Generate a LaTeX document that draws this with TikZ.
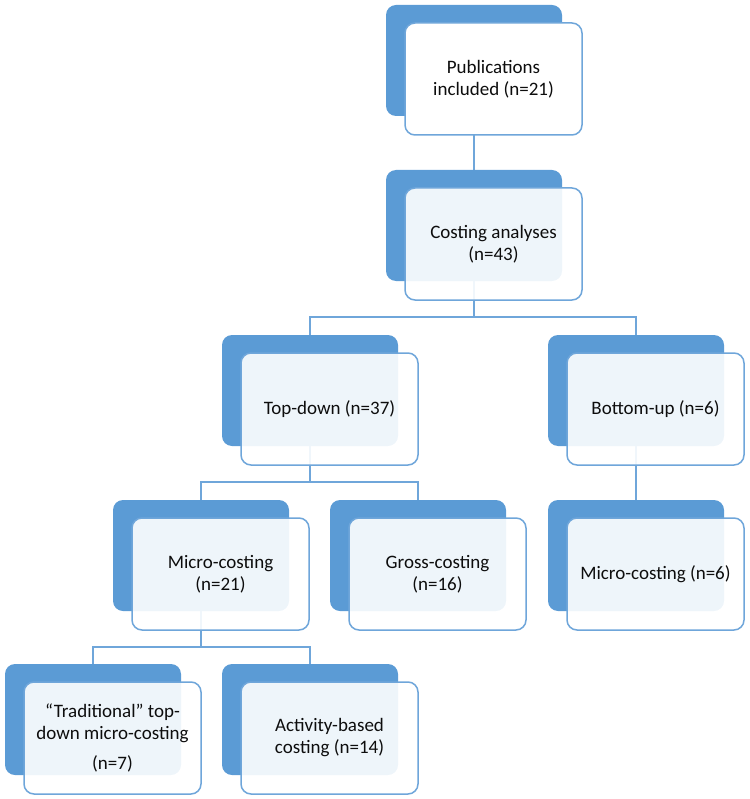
\documentclass[tikz,border=0pt]{standalone}
\usepackage{fontspec}
\setmainfont{Carlito}
\usetikzlibrary{calc, backgrounds}
\definecolor{smartblue}{HTML}{5B9BD5}
\definecolor{linkblue}{HTML}{6FA6DA}
\definecolor{inktext}{HTML}{0D0D0D}
\tikzset{
  backbox/.style={fill=smartblue, rounded corners=10pt, minimum width=176pt, minimum height=111pt, inner sep=0pt, outer sep=0pt},
  frontbox/.style={draw=linkblue, line width=1.5pt, fill=white, fill opacity=0.9, text opacity=1, text=inktext,
    rounded corners=10pt, minimum width=177pt, minimum height=112pt, inner sep=2pt, outer sep=0pt, align=center},
  link/.style={draw=linkblue, line width=1.5pt}
}
% one unit = back tile + translucent front tile, placed by the back tile's top left corner
\newcommand{\costunit}[5][]{%
  \node[backbox] (#2Back) at ($(#3,#4)+(88,55.5)$) {};
  \node[frontbox,#1] (#2) at ($(#3,#4)+(107.5,74)$) {#5};
}
\begin{document}
\begin{tikzpicture}[x=1pt, y=-1pt, font=\fontsize{19}{22}\selectfont]
    \useasboundingbox (0,0) rectangle (749,799);
    % tiles
    \costunit[fill opacity=1]{pub}{386}{5}{Publications\\included (n=21)}
    \costunit{cost}{386}{170}{Costing analyses\\(n=43)}
    \costunit{top}{222}{335}{Top-down (n=37)}
    \costunit{bot}{548}{335}{Bottom-up (n=6)}
    \costunit{micro}{113}{500}{Micro-costing\\(n=21)}
    \costunit{gross}{330}{500}{Gross-costing\\(n=16)}
    \costunit{microsix}{548}{500}{Micro-costing (n=6)}
    \costunit{trad}{5}{664}{“Traditional” top-\\down micro-costing\\[8pt](n=7)}
    \costunit{act}{222}{664}{Activity-based\\costing (n=14)}
    % connectors, under the tiles
    \begin{pgfonlayer}{background}
      \draw[link] (pubBack.south) -- (costBack.north);
      \draw[link] (costBack.south) -- ++(0,36) -| (topBack.north);
      \draw[link] (costBack.south) -- ++(0,36) -| (botBack.north);
      \draw[link] (topBack.south) -- ++(0,36) -| (microBack.north);
      \draw[link] (topBack.south) -- ++(0,36) -| (grossBack.north);
      \draw[link] (botBack.south) -- (microsixBack.north);
      \draw[link] (microBack.south) -- ++(0,36) -| (tradBack.north);
      \draw[link] (microBack.south) -- ++(0,36) -| (actBack.north);
    \end{pgfonlayer}
  \end{tikzpicture}
\end{document}
